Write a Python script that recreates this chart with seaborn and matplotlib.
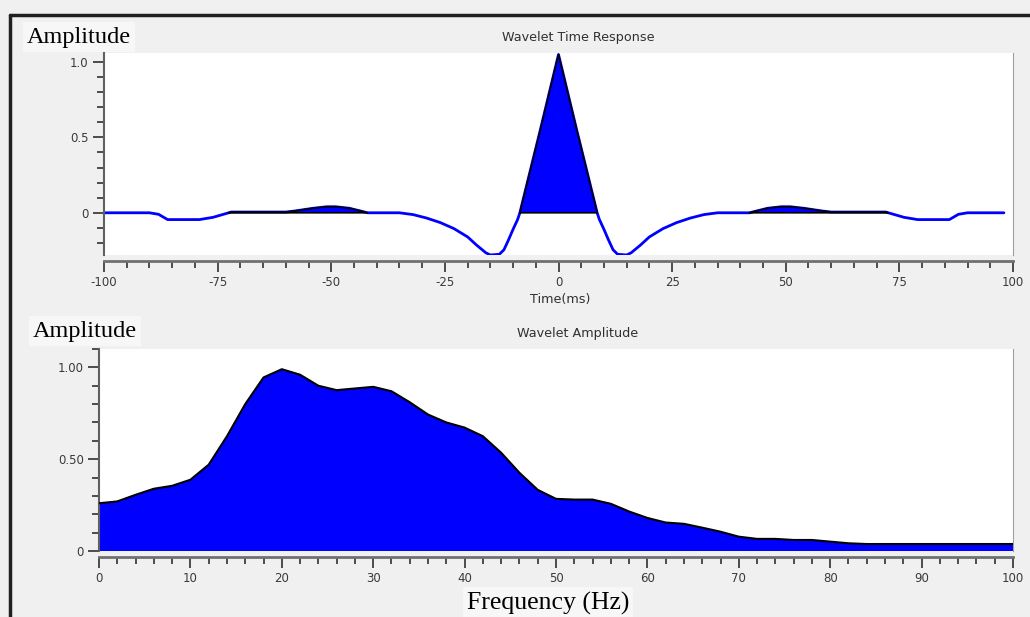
import matplotlib
matplotlib.use("Agg")
import matplotlib.pyplot as plt
from matplotlib.ticker import MultipleLocator, FixedLocator, FixedFormatter
from matplotlib.lines import Line2D
import seaborn as sns

# wavelet time response
time_ms = [-100, -90, -88, -86, -82, -79, -76, -72, -60, -58, -54, -51, -49, -46, -42,
           -35, -32, -29, -26, -23, -20, -18, -16, -15, -13, -12, -11, -10, -9, -8.5, -4, 0,
           4, 8.5, 9, 10, 11, 12, 13, 15, 16, 18, 20, 23, 26, 29, 32, 35,
           42, 46, 49, 51, 54, 58, 60, 72, 76, 79, 82, 86, 88, 90, 98]
time_amp = [0, 0, -0.01, -0.045, -0.045, -0.045, -0.03, 0.005, 0.005, 0.012, 0.03, 0.04, 0.04, 0.03, 0.0,
            0.0, -0.012, -0.035, -0.065, -0.105, -0.16, -0.215, -0.265, -0.28, -0.275, -0.245, -0.18, -0.11, -0.045, 0.0, 0.55, 1.05,
            0.55, 0.0, -0.045, -0.11, -0.18, -0.245, -0.275, -0.28, -0.265, -0.215, -0.16, -0.105, -0.065, -0.035, -0.012, 0.0,
            0.0, 0.03, 0.04, 0.04, 0.03, 0.012, 0.005, 0.005, -0.03, -0.045, -0.045, -0.045, -0.01, 0, 0]

# wavelet amplitude spectrum
freq_hz = [0, 2, 4, 6, 8, 10, 12, 14, 16, 18, 20, 22, 24, 26, 28, 30, 32, 34, 36, 38,
           40, 42, 44, 46, 48, 50, 52, 54, 56, 58, 60, 62, 64, 66, 68, 70, 72, 74,
           76, 78, 80, 82, 84, 100]
freq_amp = [0.26, 0.27, 0.306, 0.339, 0.355, 0.388, 0.47, 0.625, 0.80, 0.945, 0.99, 0.96,
            0.90, 0.876, 0.885, 0.894, 0.87, 0.81, 0.743, 0.70, 0.672, 0.625, 0.535, 0.426,
            0.333, 0.284, 0.28, 0.28, 0.257, 0.215, 0.18, 0.155, 0.148, 0.127, 0.105, 0.078,
            0.066, 0.066, 0.06, 0.06, 0.051, 0.042, 0.038, 0.038]

top_yticks = [0, 0.5, 1.0]
top_ylabels = ["0", "0.5", "1.0"]
bot_yticks = [0, 0.5, 1.0]
bot_ylabels = ["0", "0.50", "1.00"]

BG = "#f0f0f0"
BLUE = "#0000ff"
TICK = "#3a3a3a"
W, H = 1030, 617

sns.set_style("white")
plt.rcParams["font.family"] = ["DejaVu Sans"]
plt.rcParams["axes.unicode_minus"] = False


def px(x, y):
    return x / W, 1 - y / H


def style_axis(ax):
    ax.set_facecolor("white")
    ax.spines["top"].set_visible(False)
    ax.spines["right"].set_color("#a0a0a0")
    ax.spines["left"].set_color("#606060")
    ax.spines["left"].set_linewidth(1.5)
    ax.spines["bottom"].set_color("#707070")
    ax.spines["bottom"].set_linewidth(2)
    ax.spines["bottom"].set_position(("outward", 4))
    ax.tick_params(which="major", direction="out", length=8, width=1.2, color="#303030",
                   labelsize=8.5, labelcolor=TICK, pad=3, bottom=True, left=True)
    ax.tick_params(which="minor", direction="out", length=5, width=1.2, color="#303030",
                   bottom=True, left=True)
    ax.set_xlabel("")
    ax.set_ylabel("")


fig = plt.figure(figsize=(W / 100, H / 100), dpi=100, facecolor=BG)
ax1 = fig.add_axes([104 / W, 1 - 255 / H, 909 / W, 202 / H])
ax2 = fig.add_axes([99 / W, 1 - 551 / H, 914 / W, 202 / H])

# top: time response, positive lobes filled
sns.lineplot(x=time_ms, y=time_amp, ax=ax1, color=BLUE, linewidth=2)
ax1.fill_between(time_ms, 0, time_amp, where=[v > 0 for v in time_amp], interpolate=True,
                 facecolor=BLUE, edgecolor="black", linewidth=1.2, zorder=3)
ax1.set_xlim(-100, 100)
ax1.set_ylim(-0.28, 1.06)
ax1.xaxis.set_major_locator(MultipleLocator(25))
ax1.xaxis.set_minor_locator(MultipleLocator(5))
ax1.yaxis.set_major_locator(FixedLocator(top_yticks))
ax1.yaxis.set_major_formatter(FixedFormatter(top_ylabels))
ax1.yaxis.set_minor_locator(MultipleLocator(0.1))
style_axis(ax1)

# bottom: amplitude spectrum
ax2.fill_between(freq_hz, 0, freq_amp, facecolor=BLUE, edgecolor="none", zorder=2)
sns.lineplot(x=freq_hz, y=freq_amp, ax=ax2, color="black", linewidth=1.5, zorder=3)
ax2.set_xlim(0, 100)
ax2.set_ylim(0, 1.10)
ax2.xaxis.set_major_locator(MultipleLocator(10))
ax2.xaxis.set_minor_locator(MultipleLocator(2))
ax2.yaxis.set_major_locator(FixedLocator(bot_yticks))
ax2.yaxis.set_major_formatter(FixedFormatter(bot_ylabels))
ax2.yaxis.set_minor_locator(MultipleLocator(0.1))
style_axis(ax2)

# labels
serif = dict(family=["Liberation Serif", "DejaVu Serif"], color="black",
             bbox=dict(facecolor="#f7f7f7", edgecolor="none", pad=3))
fig.text(*px(27, 37), "Amplitude", ha="left", va="center", fontsize=17.5, **serif)
fig.text(*px(33, 331), "Amplitude", ha="left", va="center", fontsize=17.5, **serif)
fig.text(*px(548, 603), "Frequency (Hz)", ha="center", va="center", fontsize=18.5, **serif)
fig.text(*px(578, 38), "Wavelet Time Response", ha="center", va="center", fontsize=9.2, color="#303030")
fig.text(*px(578, 334), "Wavelet Amplitude", ha="center", va="center", fontsize=9.2, color="#303030")
fig.text(*px(560, 300), "Time(ms)", ha="center", va="center", fontsize=9.2, color="#303030")

# window frame
fig.add_artist(Line2D([10 / W, 1], [1 - 15 / H] * 2, color="#202020", lw=2.5, transform=fig.transFigure))
fig.add_artist(Line2D([10 / W] * 2, [0, 1 - 15 / H], color="#202020", lw=2.5, transform=fig.transFigure))

fig.savefig("out.png", dpi=100, facecolor=BG)
